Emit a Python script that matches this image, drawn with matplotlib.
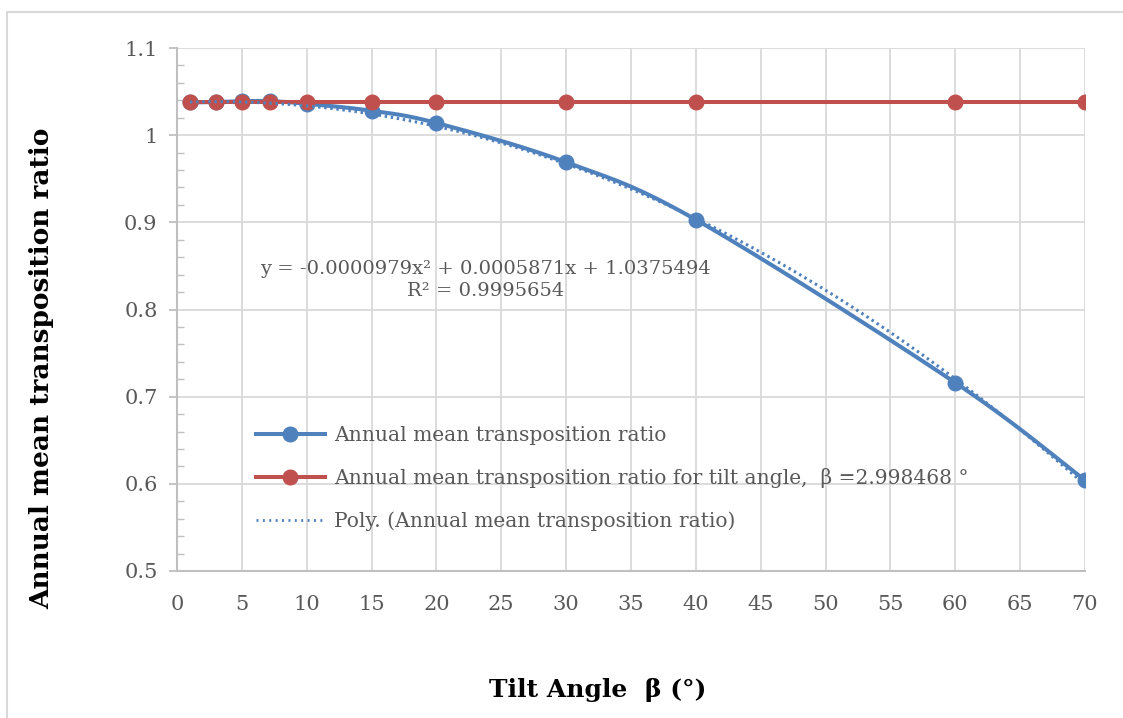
import numpy as np
import matplotlib.pyplot as plt
from matplotlib.patches import Rectangle
from matplotlib.lines import Line2D

# data
tilt = [1, 3, 5, 7.2, 10, 15, 20, 30, 40, 60, 70]
ratio = [1.0375, 1.038, 1.039, 1.039, 1.036, 1.028, 1.014, 0.969, 0.903, 0.716, 0.604]
ratio_opt = [1.0375] * len(tilt)
poly_coef = [-0.0000979, 0.0005871, 1.0375494]

BLUE = "#4f81bd"
RED = "#c0504d"
GRAY = "#595959"
GRID = "#d9d9d9"
FONT = "DejaVu Serif"


def smooth(xs, ys, n=30):
    # excel-ish smoothed line: bezier through points, catmull-rom control points
    p = np.column_stack([xs, ys]).astype(float)
    p = np.vstack([p[0], p, p[-1]])
    out = []
    t = np.linspace(0, 1, n)[:, None]
    for i in range(1, len(p) - 2):
        p0, p1, p2, p3 = p[i - 1], p[i], p[i + 1], p[i + 2]
        b1 = p1 + (p2 - p0) / 6
        b2 = p2 - (p3 - p1) / 6
        seg = (1 - t) ** 3 * p1 + 3 * (1 - t) ** 2 * t * b1 + 3 * (1 - t) * t ** 2 * b2 + t ** 3 * p2
        out.append(seg)
    out = np.vstack(out)
    return out[:, 0], out[:, 1]


fig = plt.figure(figsize=(11.23, 7.18), dpi=100)
fig.patches.append(Rectangle((7 / 1123, -0.1), 1.2, 1.1 - 12 / 718, transform=fig.transFigure,
                             fill=False, edgecolor=GRID, linewidth=1.5))
ax = fig.add_axes([177 / 1123, 1 - 571 / 718, 908 / 1123, 523 / 718])

sx, sy = smooth(tilt, ratio)
ax.plot(sx, sy, color=BLUE, lw=2.9, zorder=3)
ax.plot(tilt, ratio, "o", color=BLUE, ms=10.5, zorder=3)
ax.plot(tilt, ratio_opt, color=RED, lw=2.9, marker="o", ms=10.5, zorder=4)

xf = np.linspace(min(tilt), max(tilt), 200)
ax.plot(xf, np.polyval(poly_coef, xf), color=BLUE, lw=2.2, ls=(0, (0.8, 1.2)), zorder=5)

handles = [
    Line2D([], [], color=BLUE, lw=2.9, marker="o", ms=10.5),
    Line2D([], [], color=RED, lw=2.9, marker="o", ms=10.5),
    Line2D([], [], color=BLUE, lw=2.0, ls=(0, (0.7, 1.6))),
]
labels = [
    "Annual mean transposition ratio",
    "Annual mean transposition ratio for tilt angle,  \u03b2 =2.998468 \u00b0",
    "Poly. (Annual mean transposition ratio)",
]
leg = ax.legend(handles, labels, loc="upper left", bbox_to_anchor=(0.078, 0.293),
                frameon=False, prop={"family": FONT, "size": 14.6}, labelcolor=GRAY,
                handlelength=3.4, handletextpad=0.45, labelspacing=1.15, borderaxespad=0)

ax.text(0.34, 0.556, "y = -0.0000979x\u00b2 + 0.0005871x + 1.0375494\nR\u00b2 = 0.9995654",
        transform=ax.transAxes, ha="center", va="center", color=GRAY, fontsize=14,
        family=FONT, linespacing=1.3, multialignment="center")

ax.set_xlim(0, 70)
ax.set_ylim(0.5, 1.1)
ax.set_xticks(np.arange(0, 71, 5))
ax.set_yticks(np.arange(0.5, 1.101, 0.1))
ax.set_yticklabels(["0.5", "0.6", "0.7", "0.8", "0.9", "1", "1.1"])
ax.set_yticks(np.arange(0.5, 1.1, 0.02), minor=True)
ax.grid(True, color=GRID, lw=1.3)
ax.set_axisbelow(True)
for s in ["top", "right"]:
    ax.spines[s].set_visible(False)
for s in ["left", "bottom"]:
    ax.spines[s].set_color("#bfbfbf")
    ax.spines[s].set_linewidth(1.5)
ax.tick_params(axis="x", length=0, pad=17, labelsize=15, labelcolor=GRAY)
ax.tick_params(axis="y", which="major", length=6, width=1.3, color="#bfbfbf", pad=8,
               labelsize=15, labelcolor=GRAY)
ax.tick_params(axis="y", which="minor", direction="in", length=5, width=1.0, color="#bfbfbf")
for lab in ax.get_xticklabels() + ax.get_yticklabels():
    lab.set_family(FONT)

fig.text(598 / 1123, 1 - 690 / 718, "Tilt Angle  \u03b2 (\u00b0)", ha="center", va="center",
         fontsize=18, fontweight="bold", family=FONT)
fig.text(42 / 1123, 1 - 368 / 718, "Annual mean transposition ratio", ha="center", va="center",
         rotation=90, fontsize=19, fontweight="bold", family=FONT)

fig.savefig("out.png", dpi=100)
